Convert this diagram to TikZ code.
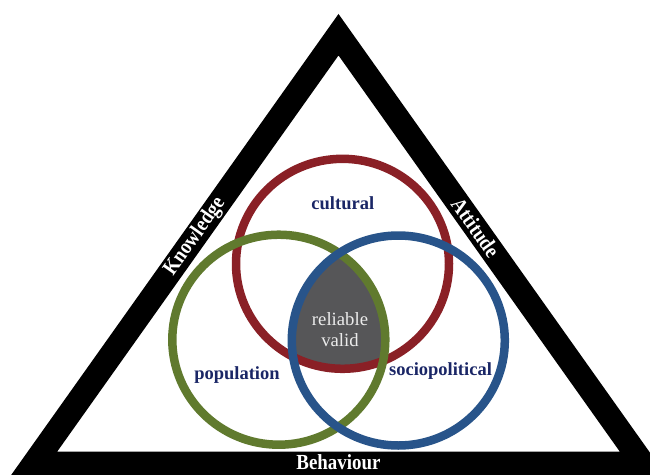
\documentclass[tikz,border=0pt]{standalone}
\usepackage{fontspec}
\setmainfont{Liberation Serif}
\newfontfamily\sidefont[FakeStretch=0.88]{Liberation Serif}
\definecolor{ringred}{RGB}{138,32,38}
\definecolor{ringgreen}{RGB}{96,122,46}
\definecolor{ringblue}{RGB}{40,84,138}
\definecolor{navy}{RGB}{26,38,102}
\definecolor{coregray}{RGB}{86,86,88}
\tikzset{
    %Define style for the outer frame
    frame/.style={
           draw=black,
           line width=24pt,
           line join=miter},
    %Define style for the rings
    ring/.style={
           line width=8.5pt},
    %Define style for the frame labels
    side/.style={
           text=white,
           inner sep=0pt,
           font=\sidefont\bfseries\fontsize{21.5}{21.5}\selectfont},
    %Define style for the ring labels
    tag/.style={
           text=navy,
           inner sep=0pt,
           anchor=base,
           font=\bfseries\fontsize{18.5}{18.5}\selectfont},
    % Define ring shape
    oval/.style={
           x radius=106.5pt,
           y radius=105pt},
}

\begin{document}
\begin{tikzpicture}[x=1pt, y=-1pt]
 \useasboundingbox (0,0) rectangle (650,474);
 %corners of the frame
 \coordinate (top) at (338.5,34.7);
 \coordinate (bl) at (33.9,463.7);
 \coordinate (br) at (643.1,463.7);
 %centres of the rings
 \coordinate (cul) at (342.5,263.8);
 \coordinate (pop) at (278.8,339.7);
 \coordinate (soc) at (398.3,340.5);
 %shared core of all three rings
 \begin{scope}
  \clip (cul) ellipse [oval];
  \clip (pop) ellipse [oval];
  \fill[coregray] (soc) ellipse [oval];
 \end{scope}
 %rings
 \draw[ring, ringred] (cul) ellipse [oval];
 \draw[ring, ringgreen] (pop) ellipse [oval];
 \draw[ring, ringblue] (soc) ellipse [oval];
 %frame
 \draw[frame] (bl) -- (top) -- (br) -- cycle;
 \path (bl) -- (top) node[side, sloped, pos=0.529] (know) {Knowledge};
 \path (top) -- (br) node[side, sloped, pos=0.45] (att) {Attitude};
 \node[side] (beh) at (338.5,462.5) {Behaviour};
 %labels
 \node[tag] (cultural) at (342.8,209) {cultural};
 \node[tag] (population) at (237,379.5) {population};
 \node[tag] (sociopolitical) at (440.5,375.7) {sociopolitical};
 \node[text=white!92!black, align=center, inner sep=0pt,
       font=\fontsize{18.7}{21.7}\selectfont] (core) at (340,329.5) {reliable\\valid};
\end{tikzpicture}
\end{document}
